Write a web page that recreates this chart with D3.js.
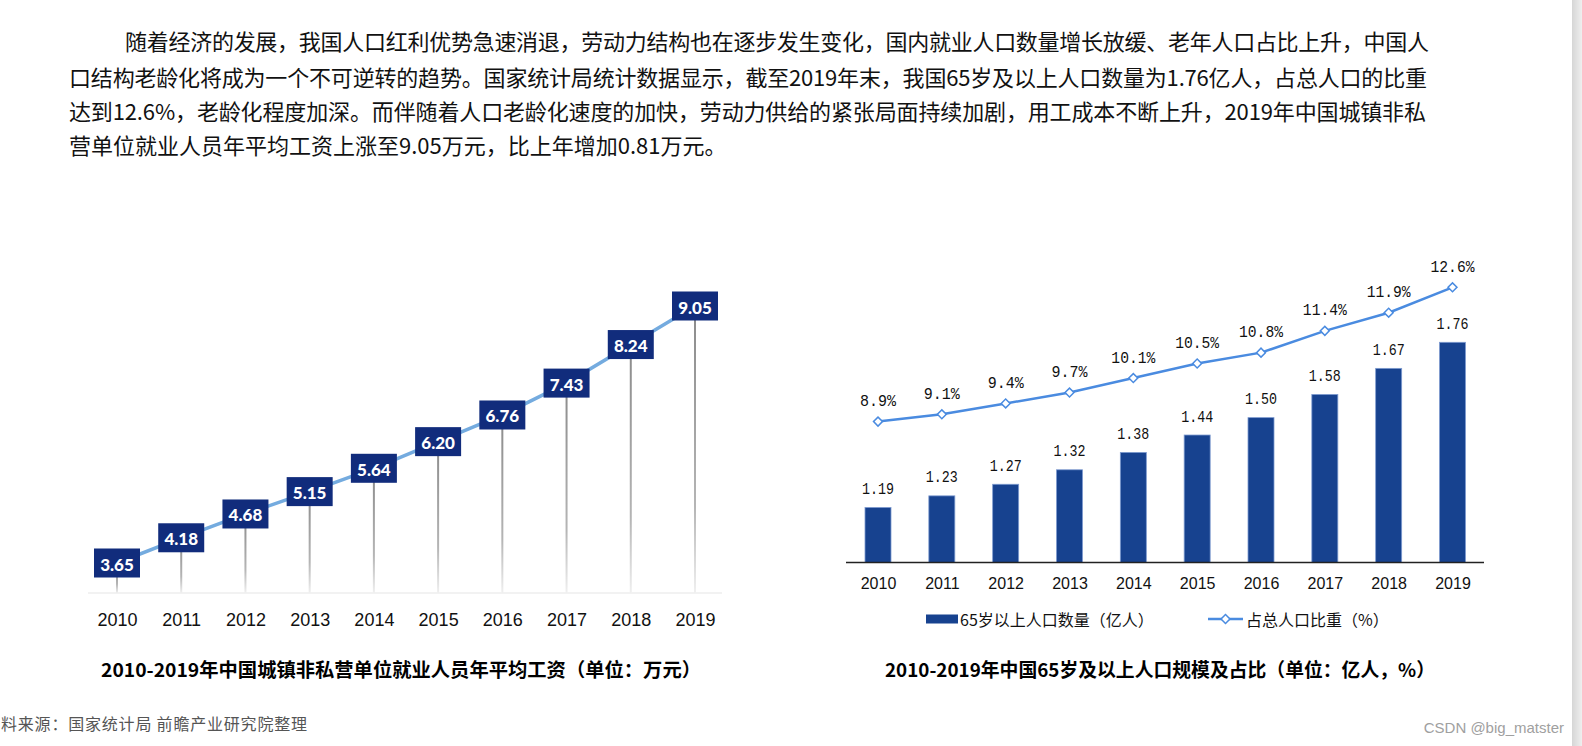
<!DOCTYPE html>
<html><head><meta charset="utf-8">
<script src="https://cdn.jsdelivr.net/npm/d3@7"></script>
<style>html,body{margin:0;padding:0;background:#fff;overflow:hidden}</style>
</head><body>
<svg id="c" width="1582" height="746"></svg>
<script>
// ---------- data ----------
const years = ["2010","2011","2012","2013","2014","2015","2016","2017","2018","2019"];
const wages = [3.65, 4.18, 4.68, 5.15, 5.64, 6.20, 6.76, 7.43, 8.24, 9.05];
const pop65 = [1.19, 1.23, 1.27, 1.32, 1.38, 1.44, 1.50, 1.58, 1.67, 1.76];
const popShare = [8.9, 9.1, 9.4, 9.7, 10.1, 10.5, 10.8, 11.4, 11.9, 12.6];
const paragraph = [
  "随着经济的发展，我国人口红利优势急速消退，劳动力结构也在逐步发生变化，国内就业人口数量增长放缓、老年人口占比上升，中国人",
  "口结构老龄化将成为一个不可逆转的趋势。国家统计局统计数据显示，截至2019年末，我国65岁及以上人口数量为1.76亿人，占总人口的比重",
  "达到12.6%，老龄化程度加深。而伴随着人口老龄化速度的加快，劳动力供给的紧张局面持续加剧，用工成本不断上升，2019年中国城镇非私",
  "营单位就业人员年平均工资上涨至9.05万元，比上年增加0.81万元。"
];
const titleLeft = "2010-2019年中国城镇非私营单位就业人员年平均工资（单位：万元）";
const titleRight = "2010-2019年中国65岁及以上人口规模及占比（单位：亿人，%）";
const legendLabels = ["65岁以上人口数量（亿人）", "占总人口比重（%）"];
const sourceText = "料来源：国家统计局 前瞻产业研究院整理";
const creditText = "CSDN @big_matster";

// ---------- setup ----------
const svg = d3.select("#c");
const CJK = "'Noto Sans CJK SC', 'Noto Sans', sans-serif";
const MONO = "'Liberation Mono', 'DejaVu Sans Mono', monospace";
const defs = svg.append("defs");

const stemGrad = defs.append("linearGradient").attr("id","stemGrad")
  .attr("x1",0).attr("y1",0).attr("x2",0).attr("y2",1);
stemGrad.append("stop").attr("offset","0%").attr("stop-color","#8a8a8a");
stemGrad.append("stop").attr("offset","70%").attr("stop-color","#b5b5b5");
stemGrad.append("stop").attr("offset","100%").attr("stop-color","#f0f0f0");

const edgeGrad = defs.append("linearGradient").attr("id","edgeGrad")
  .attr("x1",0).attr("y1",0).attr("x2",1).attr("y2",0);
edgeGrad.append("stop").attr("offset","0%").attr("stop-color","#d6d6d6");
edgeGrad.append("stop").attr("offset","100%").attr("stop-color","#efefef");

// ---------- paragraph ----------
const paraX = [125, 69, 69, 69];
const paraY = [40, 75.5, 110, 144];
const paraLen = [1304, 1358, 1357, null];
paragraph.forEach((t, i) => {
  const tx = svg.append("text")
    .attr("x", paraX[i]).attr("y", paraY[i])
    .attr("dominant-baseline", "central")
    .attr("font-family", CJK).attr("font-size", 22).attr("fill", "#111")
    .text(t);
  if (paraLen[i]) tx.attr("textLength", paraLen[i]).attr("lengthAdjust", "spacing");
});

// ---------- left chart ----------
const xL = d3.scalePoint().domain(years).range([117, 695]);
const yL = d3.scaleLinear().domain(d3.extent(wages)).range([563, 306]);
const baseL = 593;

svg.append("line").attr("x1", 88).attr("x2", 722).attr("y1", baseL).attr("y2", baseL)
  .attr("stroke", "#eeeeee").attr("stroke-width", 1.5);

const gL = svg.append("g");
gL.selectAll("rect.stem").data(wages).join("rect")
  .attr("class","stem")
  .attr("x", (d,i) => xL(years[i]) - 1)
  .attr("width", 2)
  .attr("y", d => yL(d))
  .attr("height", d => baseL - yL(d))
  .attr("fill", "url(#stemGrad)");

gL.append("path").datum(wages)
  .attr("d", d3.line().x((d,i) => xL(years[i])).y(d => yL(d)))
  .attr("fill","none").attr("stroke","#74abdf").attr("stroke-width",3.5);

const boxW = 46, boxH = 29;
gL.selectAll("rect.box").data(wages).join("rect")
  .attr("class","box")
  .attr("x", (d,i) => xL(years[i]) - boxW/2)
  .attr("y", d => yL(d) - boxH/2)
  .attr("width", boxW).attr("height", boxH)
  .attr("fill", "#112c7c");
gL.selectAll("text.val").data(wages).join("text")
  .attr("class","val")
  .attr("x", (d,i) => xL(years[i]))
  .attr("y", d => yL(d) + 1)
  .attr("text-anchor","middle").attr("dominant-baseline","central")
  .attr("font-family","Lato, 'Open Sans', sans-serif").attr("font-weight","900")
  .attr("font-size", 17).attr("fill","#fff")
  .text(d => d3.format(".2f")(d));

const axL = d3.axisBottom(xL).tickSize(0).tickPadding(0);
const gAxL = svg.append("g").attr("transform", `translate(0,${620})`).call(axL);
gAxL.select(".domain").remove();
gAxL.selectAll("text").attr("dy", null).attr("dominant-baseline","central")
  .attr("font-family","'Liberation Sans', Arial, sans-serif").attr("font-size",18).attr("fill","#111");

svg.append("text").attr("x", 101).attr("y", 668)
  .attr("dominant-baseline","central")
  .attr("font-family", CJK).attr("font-weight","bold").attr("font-size",19).attr("fill","#000")
  .attr("textLength", 600).attr("lengthAdjust","spacingAndGlyphs")
  .text(titleLeft);

// ---------- right chart ----------
const xR = d3.scalePoint().domain(years).range([878, 1452.5]);
const yB = d3.scaleLinear().domain([1.0, 1.76]).range([562.5, 342.3]);
const yP = d3.scaleLinear().domain(d3.extent(popShare)).range([421.6, 287.3]);
const barW = 26;

const gR = svg.append("g");
gR.selectAll("rect.bar").data(pop65).join("rect")
  .attr("class","bar")
  .attr("x", (d,i) => xR(years[i]) - barW/2)
  .attr("y", d => yB(d))
  .attr("width", barW)
  .attr("height", d => yB.range()[0] - yB(d))
  .attr("fill","#17428f").attr("stroke","#7e9bd0").attr("stroke-width",0.8);

const axR = d3.axisBottom(xR).tickSize(0).tickPadding(0);
const gAxR = svg.append("g").attr("transform", `translate(0,${562.5})`).call(axR);
gAxR.select(".domain").remove();
gAxR.append("line").attr("x1", 846).attr("x2", 1484).attr("y1", 0).attr("y2", 0)
  .attr("stroke","#222").attr("stroke-width",1.5);
gAxR.selectAll(".tick text").attr("dy", null).attr("y", 20.5).attr("dominant-baseline","central")
  .attr("font-family","'Liberation Sans', Arial, sans-serif").attr("font-size",16).attr("fill","#111");

gR.selectAll("text.bv").data(pop65).join("text")
  .attr("class","bv")
  .attr("x", (d,i) => xR(years[i]))
  .attr("y", d => yB(d) - 18)
  .attr("text-anchor","middle").attr("dominant-baseline","central")
  .attr("font-family", MONO)
  .attr("font-size",17).attr("fill","#111")
  .attr("textLength", 32).attr("lengthAdjust","spacingAndGlyphs")
  .text(d => d3.format(".2f")(d));

gR.append("path").datum(popShare)
  .attr("d", d3.line().x((d,i) => xR(years[i])).y(d => yP(d)))
  .attr("fill","none").attr("stroke","#4a8be0").attr("stroke-width",2.5);

gR.selectAll("path.mk").data(popShare).join("path")
  .attr("class","mk")
  .attr("d", d3.symbol().type(d3.symbolSquare).size(40))
  .attr("transform", (d,i) => `translate(${xR(years[i])},${yP(d)}) rotate(45)`)
  .attr("fill","#fff").attr("stroke","#4a8be0").attr("stroke-width",1.5);

gR.selectAll("text.pv").data(popShare).join("text")
  .attr("class","pv")
  .attr("x", (d,i) => xR(years[i]))
  .attr("y", d => yP(d) - 20)
  .attr("text-anchor","middle").attr("dominant-baseline","central")
  .attr("font-family", MONO)
  .attr("font-size",17).attr("fill","#111")
  .attr("textLength", d => d >= 10 ? 44 : 36).attr("lengthAdjust","spacingAndGlyphs")
  .text(d => d3.format(".1f")(d) + "%");

// legend
const lg = svg.append("g");
lg.append("rect").attr("x", 926).attr("y", 614.5).attr("width", 32).attr("height", 9).attr("fill","#17428f");
lg.append("text").attr("x", 960).attr("y", 619).attr("dominant-baseline","central")
  .attr("font-family", CJK).attr("font-size",16).attr("fill","#111").text(legendLabels[0]);
lg.append("line").attr("x1", 1208).attr("x2", 1243).attr("y1", 619).attr("y2", 619)
  .attr("stroke","#4a8be0").attr("stroke-width",2.5);
lg.append("path").attr("d", d3.symbol().type(d3.symbolSquare).size(40))
  .attr("transform","translate(1225.5,619) rotate(45)")
  .attr("fill","#fff").attr("stroke","#4a8be0").attr("stroke-width",1.5);
lg.append("text").attr("x", 1246).attr("y", 619).attr("dominant-baseline","central")
  .attr("font-family", CJK).attr("font-size",16).attr("fill","#111").text(legendLabels[1]);

svg.append("text").attr("x", 885).attr("y", 668)
  .attr("dominant-baseline","central")
  .attr("font-family", CJK).attr("font-weight","bold").attr("font-size",19).attr("fill","#000")
  .attr("textLength", 550).attr("lengthAdjust","spacingAndGlyphs")
  .text(titleRight);

// ---------- footer ----------
svg.append("text").attr("x", 1).attr("y", 723).attr("dominant-baseline","central")
  .attr("font-family", CJK).attr("font-size",16).attr("fill","#555")
  .attr("textLength", 306).attr("lengthAdjust","spacing")
  .text(sourceText);
svg.append("text").attr("x", 1564).attr("y", 727).attr("text-anchor","end").attr("dominant-baseline","central")
  .attr("font-family","'Liberation Sans', Arial, sans-serif").attr("font-size",15).attr("fill","#a0a0a0").text(creditText);

svg.append("rect").attr("x", 1572).attr("y", 0).attr("width", 10).attr("height", 746).attr("fill","url(#edgeGrad)");
</script>
</body></html>
